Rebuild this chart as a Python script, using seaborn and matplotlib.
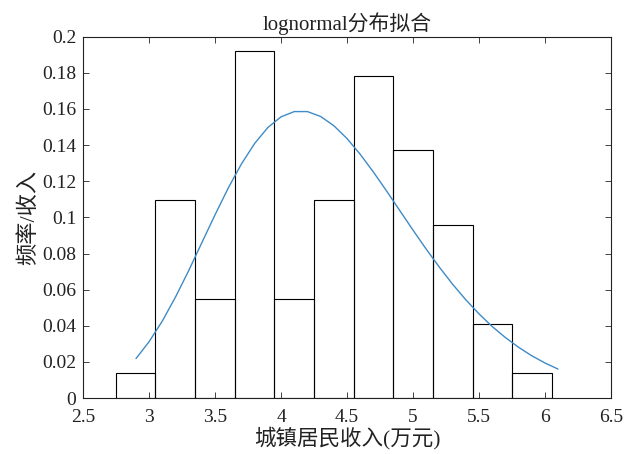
import numpy as np
import matplotlib
matplotlib.use('Agg')
import matplotlib.pyplot as plt
import seaborn as sns

# histogram of urban household income (10k yuan), frequency = count / N
bin_edges = [2.746, 3.047, 3.347, 3.648, 3.949, 4.250, 4.550,
             4.851, 5.152, 5.452, 5.753, 6.054]
freq = [0.0137, 0.1096, 0.0548, 0.1918, 0.0548, 0.1096,
        0.1781, 0.1370, 0.0959, 0.0411, 0.0137]

# fitted lognormal curve
curve_x = [2.9, 3.0, 3.1, 3.2, 3.3, 3.4, 3.5, 3.6, 3.7, 3.8, 3.9,
           4.0, 4.1, 4.2, 4.3, 4.4, 4.5, 4.6, 4.7, 4.8, 4.9, 5.0,
           5.1, 5.2, 5.3, 5.4, 5.5, 5.6, 5.7, 5.8, 5.9, 6.0, 6.1]
curve_y = [0.0219, 0.0313, 0.0427, 0.0560, 0.0706, 0.0861, 0.1015,
           0.1163, 0.1296, 0.1409, 0.1497, 0.1556, 0.1585, 0.1585,
           0.1558, 0.1507, 0.1436, 0.1349, 0.1251, 0.1146, 0.1038,
           0.0930, 0.0825, 0.0725, 0.0631, 0.0545, 0.0467, 0.0397,
           0.0336, 0.0282, 0.0235, 0.0195, 0.0161]

xticks = [2.5, 3, 3.5, 4, 4.5, 5, 5.5, 6, 6.5]
xtick_labels = ['2.5', '3', '3.5', '4', '4.5', '5', '5.5', '6', '6.5']
yticks = [0, 0.02, 0.04, 0.06, 0.08, 0.1, 0.12, 0.14, 0.16, 0.18, 0.2]
ytick_labels = ['0', '0.02', '0.04', '0.06', '0.08', '0.1', '0.12',
                '0.14', '0.16', '0.18', '0.2']

sns.set_style('ticks')
plt.rcParams['font.family'] = ['Liberation Serif', 'Noto Sans CJK SC']
plt.rcParams['axes.unicode_minus'] = False

fig = plt.figure(figsize=(6.26, 4.54), dpi=100)
ax = fig.add_axes([0.133, 0.123, 0.8426, 0.7965])

centers = [(a + b) / 2 for a, b in zip(bin_edges[:-1], bin_edges[1:])]
sns.histplot(x=centers, weights=freq, bins=bin_edges, fill=False,
             color='black', linewidth=0.8, ax=ax)
sns.lineplot(x=curve_x, y=curve_y, color='#3f8bc6', linewidth=1.0, ax=ax)

ax.set_xlim(2.5, 6.5)
ax.set_ylim(0, 0.2)
ax.set_xticks(xticks)
ax.set_xticklabels(xtick_labels)
ax.set_yticks(yticks)
ax.set_yticklabels(ytick_labels)
ax.tick_params(direction='in', length=4, width=0.6, labelsize=14,
               top=True, right=True, colors='#222222')
ax.tick_params(axis='x', pad=8)
ax.tick_params(axis='y', pad=5)
for s in ax.spines.values():
    s.set_linewidth(0.8)
    s.set_color('#222222')

ax.set_title('lognormal分布拟合', fontsize=15, color='#222222', pad=5)
ax.set_xlabel('城镇居民收入(万元)', fontsize=15.5, color='#222222', labelpad=0)
ax.set_ylabel('频率/收入', fontsize=16, color='#222222', labelpad=2)

fig.savefig('out.png', dpi=100)
